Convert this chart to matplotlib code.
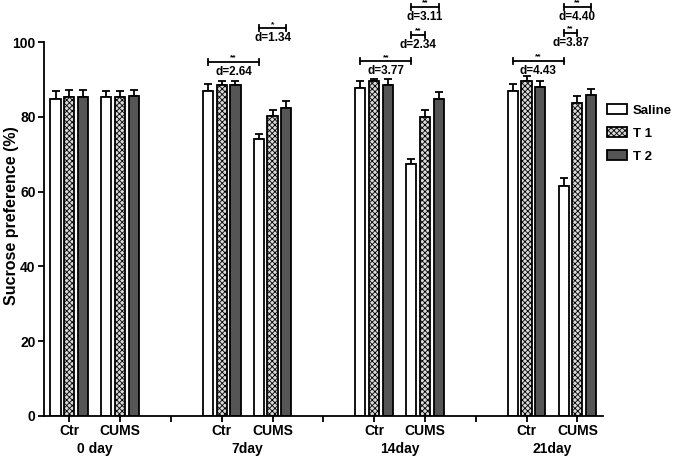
import matplotlib.pyplot as plt
import numpy as np

plt.rcParams['font.family'] = ['Liberation Sans', 'DejaVu Sans']
plt.rcParams['font.weight'] = 'bold'
plt.rcParams['hatch.linewidth'] = 0.6

days = ['0 day', '7day', '14day', '21day']
groups = ['Ctr', 'CUMS']
series = ['Saline', 'T 1', 'T 2']

# order: 0day Ctr, 0day CUMS, 7day Ctr, 7day CUMS, ...
saline = [84.8, 85.2, 86.9, 74.0, 87.6, 67.3, 87.0, 61.5]
saline_err = [2.0, 1.6, 2.0, 1.4, 2.0, 1.4, 1.7, 2.1]
t1 = [85.3, 85.3, 88.5, 80.3, 89.6, 80.0, 89.7, 83.6]
t1_err = [2.0, 1.6, 1.2, 1.6, 0.6, 1.8, 1.3, 2.0]
t2 = [85.3, 85.7, 88.5, 82.4, 88.6, 84.7, 88.0, 85.8]
t2_err = [1.8, 1.6, 1.2, 1.8, 1.5, 2.0, 1.6, 1.6]

# brackets: (day index, from (group, series), to (group, series), height, stars, d text)
brackets = [
    (1, (0, 0), (1, 0), 94.7, '**', 'd=2.64'),
    (1, (1, 0), (1, 2), 103.7, '*', 'd=1.34'),
    (2, (0, 0), (1, 0), 94.9, '**', 'd=3.77'),
    (2, (1, 0), (1, 1), 101.9, '**', 'd=2.34'),
    (2, (1, 0), (1, 2), 109.4, '**', 'd=3.11'),
    (3, (0, 0), (1, 0), 95.0, '**', 'd=4.43'),
    (3, (1, 0), (1, 1), 102.4, '**', 'd=3.87'),
    (3, (1, 0), (1, 2), 109.4, '**', 'd=4.40'),
]

fig = plt.figure(figsize=(6.75, 4.57), dpi=100)
ax = fig.add_axes([0.065, 0.09, 0.828, 0.818])

pos = []
for d in range(len(days)):
    pos += [3 * d, 3 * d + 1]
pos = np.array(pos)
w = 0.2
off = 0.27

styles = [
    dict(facecolor='white'),
    dict(facecolor='#d8d8d8', hatch='xxxxxx'),
    dict(facecolor='#555555'),
]
data = [(saline, saline_err), (t1, t1_err), (t2, t2_err)]
for i, (m, e) in enumerate(data):
    x = pos + (i - 1) * off
    ax.bar(x, m, w, edgecolor='black', linewidth=1.3, label=series[i], zorder=2, **styles[i])
    ax.errorbar(x, m, yerr=[np.zeros(len(m)), e], fmt='none', ecolor='black',
                elinewidth=1.3, capsize=3, capthick=1.3, zorder=1)

for d, a, b, h, stars, txt in brackets:
    x0 = 3 * d + a[0] + (a[1] - 1) * off
    x1 = 3 * d + b[0] + (b[1] - 1) * off
    ax.plot([x0, x1], [h, h], color='black', lw=1.3, clip_on=False)
    ax.plot([x0, x0], [h - 0.8, h + 0.8], color='black', lw=1.3, clip_on=False)
    ax.plot([x1, x1], [h - 0.8, h + 0.8], color='black', lw=1.3, clip_on=False)
    ax.text((x0 + x1) / 2, h + 0.1, stars, ha='center', va='bottom', fontsize=6)
    ax.text((x0 + x1) / 2, h - 1.1, txt, ha='center', va='top', fontsize=8.5)

ticks = list(range(0, 3 * len(days) - 1))
labels = []
for d in range(len(days)):
    labels += groups
    if d < len(days) - 1:
        labels.append('')
ax.set_xticks(ticks)
ax.set_xticklabels(labels, fontsize=10, fontweight='bold')
for d, name in enumerate(days):
    ax.text(3 * d + 0.5, -6.9, name, ha='center', va='top', fontsize=10, fontweight='bold')

ax.set_xlim(-0.5, 10.5)
ax.set_ylim(0, 100)
ax.set_yticks(range(0, 101, 20))
ax.tick_params(axis='both', labelsize=10, width=1.3, length=4, pad=2)
for t in ax.get_yticklabels():
    t.set_fontweight('bold')
ax.set_ylabel('Sucrose preference (%)', fontsize=11.5, fontweight='bold')
ax.yaxis.set_label_coords(-0.044, 0.535)
ax.spines['top'].set_visible(False)
ax.spines['right'].set_visible(False)
ax.spines['left'].set_linewidth(1.3)
ax.spines['bottom'].set_linewidth(1.3)

ax.legend(loc='upper left', bbox_to_anchor=(1.0, 0.845), frameon=False, fontsize=9.5,
          borderaxespad=0, borderpad=0.3, handlelength=1.5, handleheight=0.8,
          handletextpad=0.5, labelspacing=0.8)

fig.savefig('out.png', dpi=100)
